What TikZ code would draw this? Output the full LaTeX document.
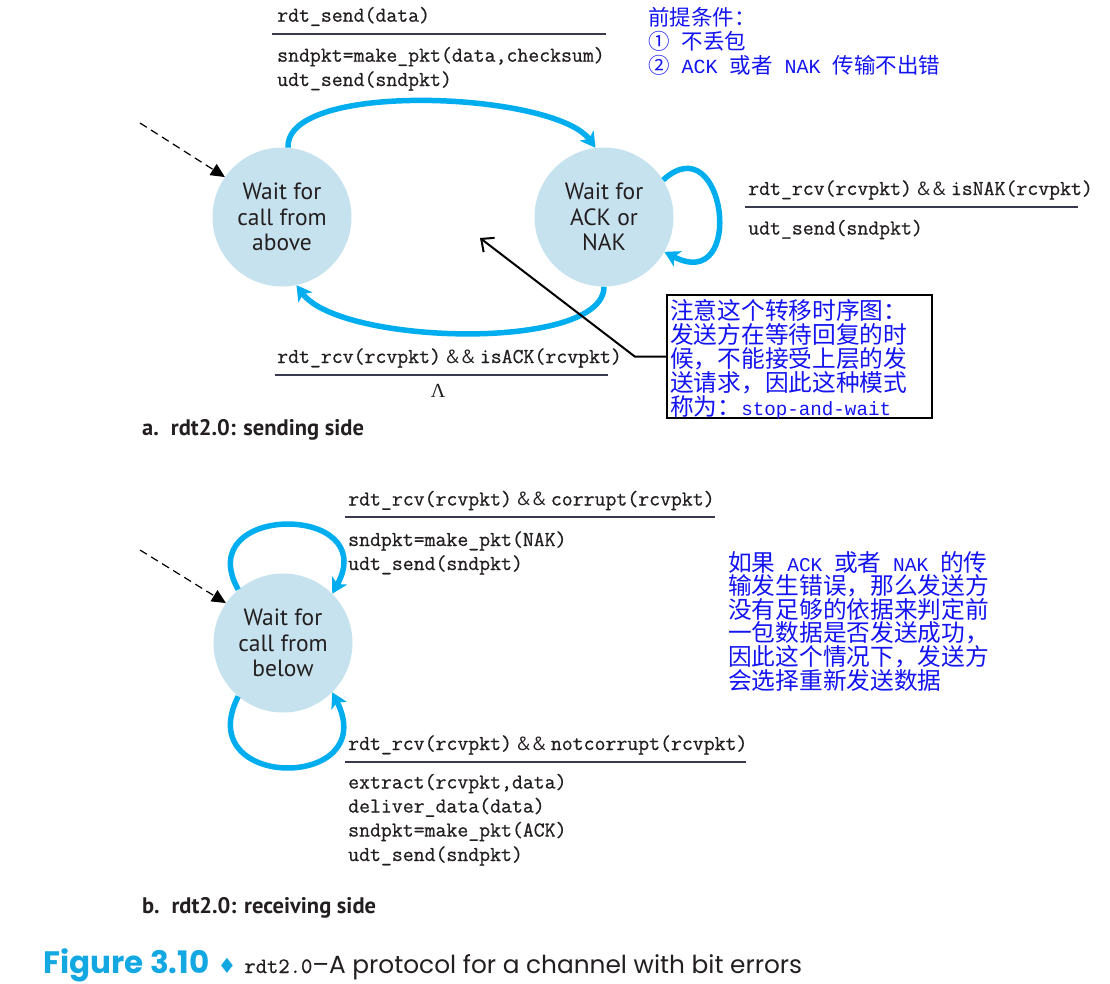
\documentclass[tikz,border=0pt]{standalone}
\usepackage{fontspec}
\usetikzlibrary{arrows.meta}
\newfontfamily\cjkfont{Noto Sans CJK SC}
\newfontfamily\notemono{Liberation Mono}
\newfontfamily\statefont{PT Sans}
\newfontfamily\symfont{DejaVu Sans}
\newfontfamily\geofont{Poppins}
\newfontfamily\greekfont{Liberation Serif}
\newfontfamily\codefont{Latin Modern Mono}[FakeBold=0.7]
\definecolor{statefill}{HTML}{C7E2EF}
\definecolor{arccyan}{HTML}{00AEEF}
\definecolor{rulegray}{HTML}{3A3A4E}
\definecolor{notecol}{HTML}{1414F0}
\definecolor{figcyan}{HTML}{14A8E2}
\definecolor{ink}{HTML}{231F20}
% Latin words inside the Chinese notes
\newcommand\lat[2][19.5]{{\notemono\fontsize{#1}{24}\selectfont #2}}
% the "&&" of the guard expressions
\newcommand\andand{\hspace{4pt}{\statefont\fontsize{19}{19}\selectfont\&\&}\hspace{4pt}}
\begin{document}
\begin{tikzpicture}[x=1pt,y=-1pt,
  state/.style={circle, fill=statefill, minimum size=139pt, inner sep=0pt,
    align=center, text=ink, font=\statefont\fontsize{23.5}{25.5}\selectfont},
  trans/.style={draw=arccyan, line width=5.5pt,
    -{Stealth[length=15pt,width=17pt,inset=4pt]}},
  initarrow/.style={draw=black, line width=1.2pt, dash pattern=on 8pt off 5pt,
    -{Triangle[length=14pt,width=13pt]}},
  pointer/.style={draw=black, line width=2pt,
    -{Straight Barb[length=10pt,width=18pt]}},
  lbl/.style={anchor=base west, inner sep=0pt, text=ink,
    font=\codefont\fontsize{21.2}{24}\selectfont},
  rule/.style={draw=rulegray, line width=2pt},
  notetop/.style={anchor=base west, inner sep=0pt, text=notecol,
    font=\cjkfont\fontsize{21.5}{24}\selectfont},
  note/.style={anchor=base west, inner sep=0pt, text=notecol,
    font=\cjkfont\fontsize{23.7}{24}\selectfont},
  capt/.style={anchor=base west, inner sep=0pt, text=ink,
    font=\statefont\bfseries\fontsize{22.5}{24}\selectfont}]
\useasboundingbox (0,0) rectangle (1110,983);

% ---------------- sending side ----------------
\node[state] (above)  at (282,217) {Wait for\\call from\\above};
\node[state] (acknak) at (604,217) {Wait for\\ACK or\\NAK};

\coordinate (initA) at (140,123);
\draw[initarrow] (initA) -- (above.145);

\draw[trans] (above.85) .. controls (285,80) and (555,92) .. (acknak.97);
\draw[trans] (acknak.-90) .. controls (604,352) and (340,345) .. (above.-78);
\draw[trans] (acknak.32) .. controls (725,123) and (747,295) .. (acknak.-30);

\node[lbl] (sendev) at (277,21.7) {rdt\_send(data)};
\draw[rule] (272,33.5) -- (606,33.5);
\node[lbl] at (277,61.7) {sndpkt=make\_pkt(data,checksum)};
\node[lbl] at (277,86) {udt\_send(sndpkt)};

\node[lbl] at (748,195) {rdt\_rcv(rcvpkt)\andand isNAK(rcvpkt)};
\draw[rule] (745,206.5) -- (1078,206.5);
\node[lbl] at (748,234.5) {udt\_send(sndpkt)};

\node[lbl] at (277,363) {rdt\_rcv(rcvpkt)\andand isACK(rcvpkt)};
\draw[rule] (275,375) -- (608,375);
\node[lbl, anchor=base] at (438,397) {\greekfont\fontsize{20}{20}\selectfont Λ};

\node[capt] at (142,435) {a.\hspace{12pt}rdt2.0: sending side};

% note on the conditions
\node[notetop] at (648,25.6) {前提条件：};
\node[notetop] at (648,49.3) {①\lat[20]{\ }不丢包};
\node[notetop] at (648,73) {②\lat[20]{\ ACK\ }或者\lat[20]{\ NAK\ }传输不出错};

% boxed remark with its pointer
\node[draw=black, line width=2.5pt, minimum width=265pt, minimum height=123pt,
  inner sep=0pt] (box) at (799.5,356.5) {};
\coordinate (pointer) at (480,238);
\draw[pointer] (box.west) -- ++(-31,0) -- (pointer);
\node[note] at (670,319) {注意这个转移时序图：};
\node[note] at (670,343) {发送方在等待回复的时};
\node[note] at (670,367) {候，不能接受上层的发};
\node[note] at (670,391) {送请求，因此这种模式};
\node[note] at (670,415) {称为：\lat[19.2]{stop-and-wait}};

% ---------------- receiving side ----------------
\node[state] (below) at (283,643) {Wait for\\call from\\below};

\coordinate (initB) at (140,550);
\draw[initarrow] (initB) -- (below.145);

\draw[trans] (below.130) .. controls (190,503) and (382,503) .. (below.45);
\draw[trans] (below.-130) .. controls (190,791) and (382,791) .. (below.-45);

\node[lbl] at (348,505.5) {rdt\_rcv(rcvpkt)\andand corrupt(rcvpkt)};
\draw[rule] (345,517) -- (715,517);
\node[lbl] at (348,546) {sndpkt=make\_pkt(NAK)};
\node[lbl] at (348,570) {udt\_send(sndpkt)};

\node[lbl] at (348,750) {rdt\_rcv(rcvpkt)\andand notcorrupt(rcvpkt)};
\draw[rule] (345,762) -- (746,762);
\node[lbl] at (348,788.5) {extract(rcvpkt,data)};
\node[lbl] at (348,812.5) {deliver\_data(data)};
\node[lbl] at (348,836.5) {sndpkt=make\_pkt(ACK)};
\node[lbl] at (348,861) {udt\_send(sndpkt)};

\node[capt] at (142,913) {b.\hspace{12pt}rdt2.0: receiving side};

% note on damaged ACK/NAK
\node[note] at (728,571)   {如果\lat{\ ACK\ }或者\lat{\ NAK\ }的传};
\node[note] at (728,594.6) {输发生错误，那么发送方};
\node[note] at (728,618.2) {没有足够的依据来判定前};
\node[note] at (728,641.8) {一包数据是否发送成功，};
\node[note] at (728,665.4) {因此这个情况下，发送方};
\node[note] at (728,689)   {会选择重新发送数据};

% ---------------- figure caption ----------------
\node[anchor=base west, inner sep=0pt] at (43,973)
  {{\geofont\bfseries\color{figcyan}\fontsize{31}{32}\selectfont Figure 3.10}%
   \hspace{8pt}{\symfont\color{figcyan}\fontsize{21}{22}\selectfont ♦}\hspace{8pt}%
   {\codefont\color{ink}\fontsize{22}{24}\selectfont rdt2.0}%
   {\geofont\color{ink}\fontsize{24.8}{28}\selectfont –A protocol for a channel with bit errors}};
\end{tikzpicture}
\end{document}
